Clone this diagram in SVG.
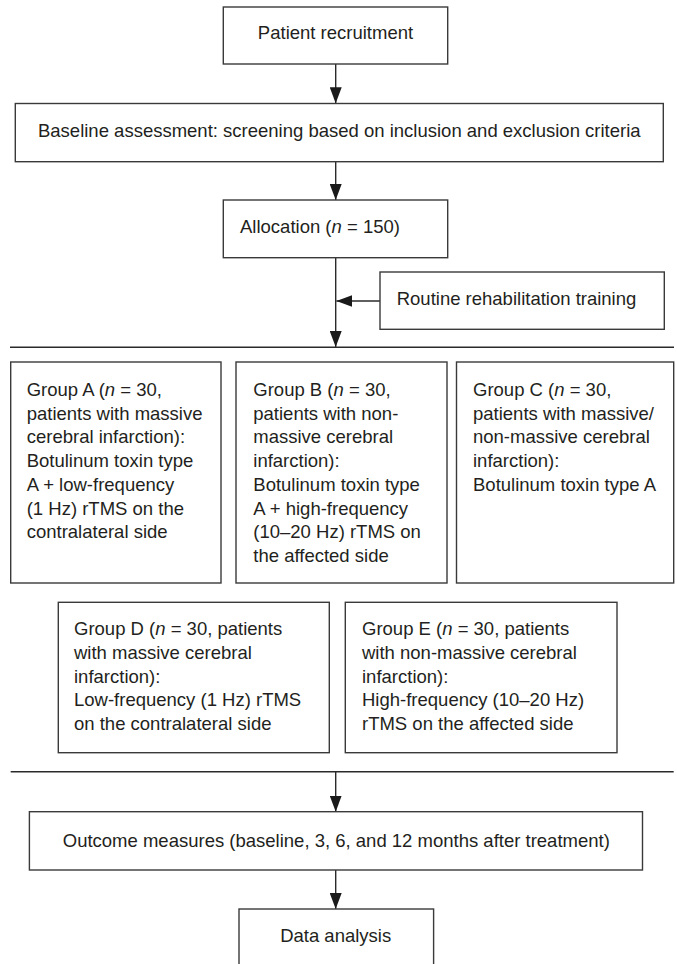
<svg xmlns="http://www.w3.org/2000/svg" width="677" height="964" viewBox="0 0 677 964">
<style>
.box{fill:#fff;stroke:#3a3a3a;stroke-width:1.4}
.t{font-family:"Liberation Sans",Arial,sans-serif;font-size:18.5px;fill:#231f20}
.c{text-anchor:middle}
.ln{stroke:#2a2a2a;stroke-width:1.4;fill:none}
.i{font-style:italic}
</style>
<defs>
<marker id="ah" viewBox="0 0 16 12" refX="16" refY="6" markerWidth="16" markerHeight="12" orient="auto" markerUnits="userSpaceOnUse">
<path d="M0,0 L16,6 L0,12 z" fill="#1a1a1a"/>
</marker>
</defs>
<rect width="677" height="964" fill="#fff"/>

<g id="connectors">
<line class="ln" x1="335.7" y1="64" x2="335.7" y2="103.3" marker-end="url(#ah)"/>
<line class="ln" x1="335.7" y1="161.7" x2="335.7" y2="200" marker-end="url(#ah)"/>
<line class="ln" x1="335.7" y1="257.7" x2="335.7" y2="347" marker-end="url(#ah)"/>
<line class="ln" x1="380" y1="301" x2="336.4" y2="301" marker-end="url(#ah)"/>
<line class="ln" x1="10" y1="347.3" x2="674" y2="347.3"/>
<line class="ln" x1="10.7" y1="771.7" x2="673.7" y2="771.7"/>
<line class="ln" x1="335.7" y1="771.7" x2="335.7" y2="811.7" marker-end="url(#ah)"/>
<line class="ln" x1="335.7" y1="870" x2="335.7" y2="909" marker-end="url(#ah)"/>
</g>

<g id="patient">
<rect class="box" x="223.3" y="7" width="224.4" height="57"/>
<text class="t c" x="335.5" y="39.3">Patient recruitment</text>
</g>

<g id="baseline">
<rect class="box" x="15.3" y="103.5" width="648" height="58.2"/>
<text class="t c" x="339.3" y="136.5">Baseline assessment: screening based on inclusion and exclusion criteria</text>
</g>

<g id="allocation">
<rect class="box" x="223.3" y="200" width="224.4" height="57.7"/>
<text class="t" x="240" y="232.5">Allocation (<tspan class="i">n</tspan> = 150)</text>
</g>

<g id="routine">
<rect class="box" x="380" y="272" width="284.3" height="57.3"/>
<text class="t" x="396.7" y="305">Routine rehabilitation training</text>
</g>

<g id="groupA">
<rect class="box" x="10.7" y="362" width="210.3" height="221"/>
<text class="t" y="396">
<tspan x="26.7">Group A (<tspan class="i">n</tspan> = 30,</tspan>
<tspan x="26.7" dy="23.7">patients with massive</tspan>
<tspan x="26.7" dy="23.7">cerebral infarction):</tspan>
<tspan x="26.7" dy="23.7">Botulinum toxin type</tspan>
<tspan x="26.7" dy="23.7">A + low-frequency</tspan>
<tspan x="26.7" dy="23.7">(1 Hz) rTMS on the</tspan>
<tspan x="26.7" dy="23.7">contralateral side</tspan>
</text>
</g>

<g id="groupB">
<rect class="box" x="236" y="362" width="211" height="221"/>
<text class="t" y="396">
<tspan x="253.3">Group B (<tspan class="i">n</tspan> = 30,</tspan>
<tspan x="253.3" dy="23.7">patients with non-</tspan>
<tspan x="253.3" dy="23.7">massive cerebral</tspan>
<tspan x="253.3" dy="23.7">infarction):</tspan>
<tspan x="253.3" dy="23.7">Botulinum toxin type</tspan>
<tspan x="253.3" dy="23.7">A + high-frequency</tspan>
<tspan x="253.3" dy="23.7">(10–20 Hz) rTMS on</tspan>
<tspan x="253.3" dy="23.7">the affected side</tspan>
</text>
</g>

<g id="groupC">
<rect class="box" x="456.5" y="362" width="217.2" height="221"/>
<text class="t" y="396">
<tspan x="473">Group C (<tspan class="i">n</tspan> = 30,</tspan>
<tspan x="473" dy="23.7">patients with massive/</tspan>
<tspan x="473" dy="23.7">non-massive cerebral</tspan>
<tspan x="473" dy="23.7">infarction):</tspan>
<tspan x="473" dy="23.7">Botulinum toxin type A</tspan>
</text>
</g>

<g id="groupD">
<rect class="box" x="58.3" y="602.3" width="271" height="150.4"/>
<text class="t" y="635">
<tspan x="74">Group D (<tspan class="i">n</tspan> = 30, patients</tspan>
<tspan x="74" dy="23.8">with massive cerebral</tspan>
<tspan x="74" dy="23.8">infarction):</tspan>
<tspan x="74" dy="23.8">Low-frequency (1 Hz) rTMS</tspan>
<tspan x="74" dy="23.8">on the contralateral side</tspan>
</text>
</g>

<g id="groupE">
<rect class="box" x="345.3" y="602.3" width="271.7" height="150.4"/>
<text class="t" y="635">
<tspan x="362">Group E (<tspan class="i">n</tspan> = 30, patients</tspan>
<tspan x="362" dy="23.8">with non-massive cerebral</tspan>
<tspan x="362" dy="23.8">infarction):</tspan>
<tspan x="362" dy="23.8">High-frequency (10–20 Hz)</tspan>
<tspan x="362" dy="23.8">rTMS on the affected side</tspan>
</text>
</g>

<g id="outcome">
<rect class="box" x="29.4" y="811.7" width="613.1" height="58.3"/>
<text class="t c" x="336.3" y="846.5">Outcome measures (baseline, 3, 6, and 12 months after treatment)</text>
</g>

<g id="data">
<rect class="box" x="239" y="909" width="194.6" height="70"/>
<text class="t c" x="335.7" y="941.5">Data analysis</text>
</g>
</svg>
